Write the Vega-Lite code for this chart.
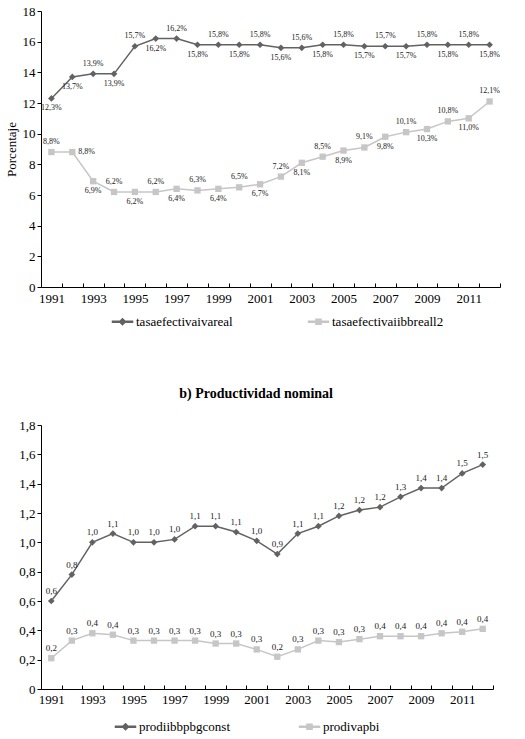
{
  "$schema": "https://vega.github.io/schema/vega-lite/v6.json",
  "background": "white",
  "padding": {"left": 5, "top": 5, "right": 5, "bottom": 0},
  "columns": 1,
  "spacing": 58,
  "datasets": {
    "tasas": [
      {"year": 1991, "serie": "tasaefectivaivareal", "value": 12.3},
      {"year": 1992, "serie": "tasaefectivaivareal", "value": 13.7},
      {"year": 1993, "serie": "tasaefectivaivareal", "value": 13.9},
      {"year": 1994, "serie": "tasaefectivaivareal", "value": 13.9},
      {"year": 1995, "serie": "tasaefectivaivareal", "value": 15.7},
      {"year": 1996, "serie": "tasaefectivaivareal", "value": 16.2},
      {"year": 1997, "serie": "tasaefectivaivareal", "value": 16.2},
      {"year": 1998, "serie": "tasaefectivaivareal", "value": 15.8},
      {"year": 1999, "serie": "tasaefectivaivareal", "value": 15.8},
      {"year": 2000, "serie": "tasaefectivaivareal", "value": 15.8},
      {"year": 2001, "serie": "tasaefectivaivareal", "value": 15.8},
      {"year": 2002, "serie": "tasaefectivaivareal", "value": 15.6},
      {"year": 2003, "serie": "tasaefectivaivareal", "value": 15.6},
      {"year": 2004, "serie": "tasaefectivaivareal", "value": 15.8},
      {"year": 2005, "serie": "tasaefectivaivareal", "value": 15.8},
      {"year": 2006, "serie": "tasaefectivaivareal", "value": 15.7},
      {"year": 2007, "serie": "tasaefectivaivareal", "value": 15.7},
      {"year": 2008, "serie": "tasaefectivaivareal", "value": 15.7},
      {"year": 2009, "serie": "tasaefectivaivareal", "value": 15.8},
      {"year": 2010, "serie": "tasaefectivaivareal", "value": 15.8},
      {"year": 2011, "serie": "tasaefectivaivareal", "value": 15.8},
      {"year": 2012, "serie": "tasaefectivaivareal", "value": 15.8},
      {"year": 1991, "serie": "tasaefectivaiibbreall2", "value": 8.8},
      {"year": 1992, "serie": "tasaefectivaiibbreall2", "value": 8.8},
      {"year": 1993, "serie": "tasaefectivaiibbreall2", "value": 6.9},
      {"year": 1994, "serie": "tasaefectivaiibbreall2", "value": 6.2},
      {"year": 1995, "serie": "tasaefectivaiibbreall2", "value": 6.2},
      {"year": 1996, "serie": "tasaefectivaiibbreall2", "value": 6.2},
      {"year": 1997, "serie": "tasaefectivaiibbreall2", "value": 6.4},
      {"year": 1998, "serie": "tasaefectivaiibbreall2", "value": 6.3},
      {"year": 1999, "serie": "tasaefectivaiibbreall2", "value": 6.4},
      {"year": 2000, "serie": "tasaefectivaiibbreall2", "value": 6.5},
      {"year": 2001, "serie": "tasaefectivaiibbreall2", "value": 6.7},
      {"year": 2002, "serie": "tasaefectivaiibbreall2", "value": 7.2},
      {"year": 2003, "serie": "tasaefectivaiibbreall2", "value": 8.1},
      {"year": 2004, "serie": "tasaefectivaiibbreall2", "value": 8.5},
      {"year": 2005, "serie": "tasaefectivaiibbreall2", "value": 8.9},
      {"year": 2006, "serie": "tasaefectivaiibbreall2", "value": 9.1},
      {"year": 2007, "serie": "tasaefectivaiibbreall2", "value": 9.8},
      {"year": 2008, "serie": "tasaefectivaiibbreall2", "value": 10.1},
      {"year": 2009, "serie": "tasaefectivaiibbreall2", "value": 10.3},
      {"year": 2010, "serie": "tasaefectivaiibbreall2", "value": 10.8},
      {"year": 2011, "serie": "tasaefectivaiibbreall2", "value": 11.0},
      {"year": 2012, "serie": "tasaefectivaiibbreall2", "value": 12.1}
    ],
    "prod": [
      {"year": 1991, "serie": "prodiibbpbgconst", "value": 0.60},
      {"year": 1992, "serie": "prodiibbpbgconst", "value": 0.78},
      {"year": 1993, "serie": "prodiibbpbgconst", "value": 1.00},
      {"year": 1994, "serie": "prodiibbpbgconst", "value": 1.06},
      {"year": 1995, "serie": "prodiibbpbgconst", "value": 1.00},
      {"year": 1996, "serie": "prodiibbpbgconst", "value": 1.00},
      {"year": 1997, "serie": "prodiibbpbgconst", "value": 1.02},
      {"year": 1998, "serie": "prodiibbpbgconst", "value": 1.11},
      {"year": 1999, "serie": "prodiibbpbgconst", "value": 1.11},
      {"year": 2000, "serie": "prodiibbpbgconst", "value": 1.07},
      {"year": 2001, "serie": "prodiibbpbgconst", "value": 1.01},
      {"year": 2002, "serie": "prodiibbpbgconst", "value": 0.92},
      {"year": 2003, "serie": "prodiibbpbgconst", "value": 1.06},
      {"year": 2004, "serie": "prodiibbpbgconst", "value": 1.11},
      {"year": 2005, "serie": "prodiibbpbgconst", "value": 1.18},
      {"year": 2006, "serie": "prodiibbpbgconst", "value": 1.22},
      {"year": 2007, "serie": "prodiibbpbgconst", "value": 1.24},
      {"year": 2008, "serie": "prodiibbpbgconst", "value": 1.31},
      {"year": 2009, "serie": "prodiibbpbgconst", "value": 1.37},
      {"year": 2010, "serie": "prodiibbpbgconst", "value": 1.37},
      {"year": 2011, "serie": "prodiibbpbgconst", "value": 1.47},
      {"year": 2012, "serie": "prodiibbpbgconst", "value": 1.53},
      {"year": 1991, "serie": "prodivapbi", "value": 0.21},
      {"year": 1992, "serie": "prodivapbi", "value": 0.33},
      {"year": 1993, "serie": "prodivapbi", "value": 0.38},
      {"year": 1994, "serie": "prodivapbi", "value": 0.37},
      {"year": 1995, "serie": "prodivapbi", "value": 0.33},
      {"year": 1996, "serie": "prodivapbi", "value": 0.33},
      {"year": 1997, "serie": "prodivapbi", "value": 0.33},
      {"year": 1998, "serie": "prodivapbi", "value": 0.33},
      {"year": 1999, "serie": "prodivapbi", "value": 0.31},
      {"year": 2000, "serie": "prodivapbi", "value": 0.31},
      {"year": 2001, "serie": "prodivapbi", "value": 0.27},
      {"year": 2002, "serie": "prodivapbi", "value": 0.22},
      {"year": 2003, "serie": "prodivapbi", "value": 0.27},
      {"year": 2004, "serie": "prodivapbi", "value": 0.33},
      {"year": 2005, "serie": "prodivapbi", "value": 0.32},
      {"year": 2006, "serie": "prodivapbi", "value": 0.34},
      {"year": 2007, "serie": "prodivapbi", "value": 0.36},
      {"year": 2008, "serie": "prodivapbi", "value": 0.36},
      {"year": 2009, "serie": "prodivapbi", "value": 0.36},
      {"year": 2010, "serie": "prodivapbi", "value": 0.38},
      {"year": 2011, "serie": "prodivapbi", "value": 0.39},
      {"year": 2012, "serie": "prodivapbi", "value": 0.41}
    ]
  },
  "concat": [
    {
      "width": 459,
      "height": 276,
      "data": {"name": "tasas"},
      "encoding": {
        "x": {
          "field": "year", "type": "ordinal", "title": null,
          "scale": {"type": "band", "paddingInner": 0, "paddingOuter": 0},
          "axis": {"labelAngle": 0, "tickBand": "extent", "tickSize": -4, "labelPadding": 9,
                   "labelExpr": "datum.value % 2 == 1 ? datum.label : ''"}
        },
        "y": {
          "field": "value", "type": "quantitative",
          "scale": {"domain": [0, 18], "nice": false},
          "axis": {"values": [0, 2, 4, 6, 8, 10, 12, 14, 16, 18], "title": "Porcentaje", "titlePadding": 4}
        }
      },
      "layer": [
        {
          "mark": {"type": "line", "strokeWidth": 1.5},
          "encoding": {
            "color": {
              "field": "serie", "type": "nominal",
              "scale": {"domain": ["tasaefectivaivareal", "tasaefectivaiibbreall2"], "range": ["#626262", "#c6c6c6"]},
              "legend": {
                "orient": "none", "legendX": 74, "legendY": 303, "direction": "horizontal", "title": null,
                "symbolSize": 178, "columnPadding": 72, "labelOffset": 6, "symbolOpacity": 1
              }
            }
          }
        },
        {
          "transform": [{"filter": "false"}],
          "mark": {"type": "point", "filled": true, "opacity": 1},
          "encoding": {
            "color": {"field": "serie", "type": "nominal", "legend": null},
            "shape": {"field": "serie", "type": "nominal", "legend": null,
                      "scale": {"domain": ["tasaefectivaivareal", "tasaefectivaiibbreall2"],
                                "range": ["M-1.5,-0.08H1.5V0.08H-1.5ZM-0.45,0L0,-0.45L0.45,0L0,0.45Z", "M-1.5,-0.08H1.5V0.08H-1.5ZM-0.38,-0.38H0.38V0.38H-0.38Z"]}}
          }
        },
        {
          "transform": [{"filter": "datum.serie == 'tasaefectivaivareal'"}],
          "mark": {"type": "point", "filled": true, "opacity": 1, "size": 45, "shape": "diamond"},
          "encoding": {"color": {"field": "serie", "type": "nominal", "legend": null}}
        },
        {
          "transform": [{"filter": "datum.serie == 'tasaefectivaiibbreall2'"}],
          "mark": {"type": "point", "filled": true, "opacity": 1, "size": 40, "shape": "square"},
          "encoding": {"color": {"field": "serie", "type": "nominal", "legend": null}}
        },
        {
          "transform": [{"filter": "datum.serie == 'tasaefectivaivareal' && datum.year % 2 == 1 && datum.year >= 1993"}],
          "mark": {"type": "text", "dy": -10, "text": {"expr": "replace(format(datum.value, '.1f'), '.', ',') + '%'"}}
        },
        {
          "transform": [{"filter": "datum.serie == 'tasaefectivaivareal' && (datum.year % 2 == 0 || datum.year < 1993)"}],
          "mark": {"type": "text", "dy": 10, "text": {"expr": "replace(format(datum.value, '.1f'), '.', ',') + '%'"}}
        },
        {
          "transform": [{"filter": "datum.serie == 'tasaefectivaiibbreall2' && (datum.year == 1991 || (datum.year % 2 == 0 && datum.year >= 1994))"}],
          "mark": {"type": "text", "dy": -10, "text": {"expr": "replace(format(datum.value, '.1f'), '.', ',') + '%'"}}
        },
        {
          "transform": [{"filter": "datum.serie == 'tasaefectivaiibbreall2' && datum.year % 2 == 1 && datum.year >= 1993"}],
          "mark": {"type": "text", "dy": 10, "text": {"expr": "replace(format(datum.value, '.1f'), '.', ',') + '%'"}}
        },
        {
          "transform": [{"filter": "datum.serie == 'tasaefectivaiibbreall2' && datum.year == 1992"}],
          "mark": {"type": "text", "dx": 6, "align": "left", "text": {"expr": "replace(format(datum.value, '.1f'), '.', ',') + '%'"}}
        }
      ]
    },
    {
      "width": 452,
      "height": 264,
      "title": {"text": "b) Productividad nominal", "offset": 18, "frame": "bounds", "anchor": "middle"},
      "data": {"name": "prod"},
      "encoding": {
        "x": {
          "field": "year", "type": "ordinal", "title": null,
          "scale": {"type": "band", "paddingInner": 0, "paddingOuter": 0},
          "axis": {"labelAngle": 0, "tickBand": "extent", "tickSize": -4, "labelPadding": 8,
                   "labelExpr": "datum.value % 2 == 1 ? datum.label : ''"}
        },
        "y": {
          "field": "value", "type": "quantitative",
          "scale": {"domain": [0, 1.8], "nice": false},
          "axis": {"values": [0, 0.2, 0.4, 0.6, 0.8, 1.0, 1.2, 1.4, 1.6, 1.8], "title": null,
                   "labelExpr": "datum.value == 0 ? '0' : replace(format(datum.value, '.1f'), '.', ',')"}
        }
      },
      "layer": [
        {
          "mark": {"type": "line", "strokeWidth": 1.5},
          "encoding": {
            "color": {
              "field": "serie", "type": "nominal",
              "scale": {"domain": ["prodiibbpbgconst", "prodivapbi"], "range": ["#626262", "#c6c6c6"]},
              "legend": {
                "orient": "none", "legendX": 77, "legendY": 294, "direction": "horizontal", "title": null,
                "symbolSize": 178, "columnPadding": 66, "labelOffset": 6, "symbolOpacity": 1
              }
            }
          }
        },
        {
          "transform": [{"filter": "false"}],
          "mark": {"type": "point", "filled": true, "opacity": 1},
          "encoding": {
            "color": {"field": "serie", "type": "nominal", "legend": null},
            "shape": {"field": "serie", "type": "nominal", "legend": null,
                      "scale": {"domain": ["prodiibbpbgconst", "prodivapbi"],
                                "range": ["M-1.5,-0.08H1.5V0.08H-1.5ZM-0.45,0L0,-0.45L0.45,0L0,0.45Z", "M-1.5,-0.08H1.5V0.08H-1.5ZM-0.38,-0.38H0.38V0.38H-0.38Z"]}}
          }
        },
        {
          "transform": [{"filter": "datum.serie == 'prodiibbpbgconst'"}],
          "mark": {"type": "point", "filled": true, "opacity": 1, "size": 45, "shape": "diamond"},
          "encoding": {"color": {"field": "serie", "type": "nominal", "legend": null}}
        },
        {
          "transform": [{"filter": "datum.serie == 'prodivapbi'"}],
          "mark": {"type": "point", "filled": true, "opacity": 1, "size": 40, "shape": "square"},
          "encoding": {"color": {"field": "serie", "type": "nominal", "legend": null}}
        },
        {
          "mark": {"type": "text", "dy": -10, "fontSize": 9, "text": {"expr": "replace(format(datum.value, '.1f'), '.', ',')"}}
        }
      ]
    }
  ],
  "resolve": {"scale": {"color": "independent", "shape": "independent"}, "legend": {"color": "independent"}},
  "config": {
    "view": {"stroke": null},
    "font": "Liberation Serif",
    "axis": {
      "grid": false, "domainColor": "black", "tickColor": "black", "tickSize": 4,
      "labelFont": "Liberation Serif", "labelFontSize": 13, "labelColor": "black", "labelPadding": 2,
      "titleFont": "Liberation Serif", "titleFontSize": 13, "titleFontWeight": "normal", "titleColor": "black"
    },
    "legend": {"labelFont": "Liberation Serif", "labelFontSize": 13, "labelColor": "black"},
    "title": {"font": "Liberation Serif", "fontSize": 14, "fontWeight": "bold", "color": "black"},
    "text": {"font": "Liberation Serif", "fontSize": 8, "color": "#1a1a1a", "baseline": "middle"}
  }
}
